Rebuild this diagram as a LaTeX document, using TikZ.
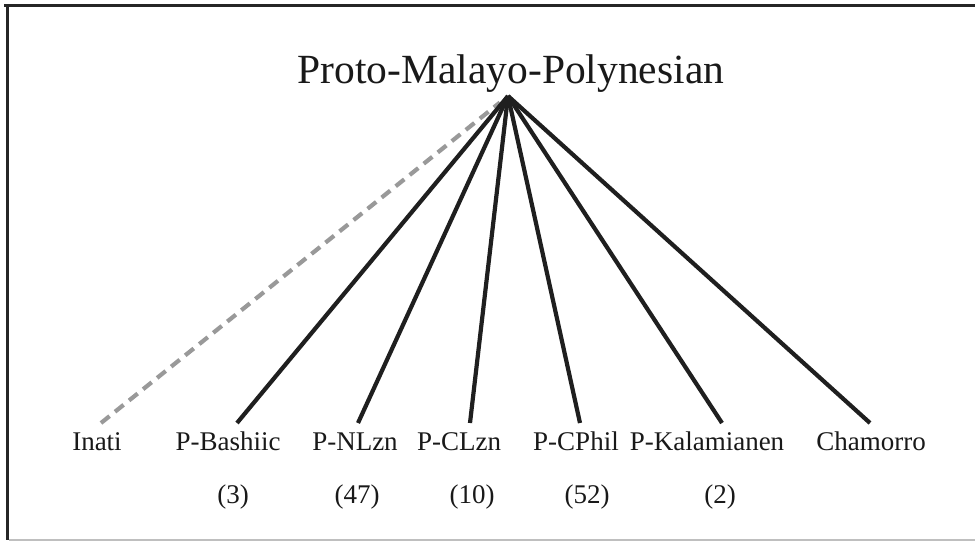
\documentclass[tikz,border=0pt]{standalone}
\usepackage{fontspec}
\setmainfont{Liberation Serif}
\usetikzlibrary{calc}
\begin{document}
\begin{tikzpicture}[x=1pt,y=-1pt,
  lbl/.style={anchor=base,inner sep=0pt,font=\fontsize{27}{30}\selectfont,text=black!90},
  ttl/.style={anchor=base,inner sep=0pt,font=\fontsize{41.5}{48}\selectfont,text=black!90},
  branch/.style={line width=4.2pt,draw=black!88},
  dashbranch/.style={line width=4.2pt,draw=black!40,dash pattern=on 11pt off 7pt}]
\useasboundingbox (0,0) rectangle (975,542);
% frame
\draw[line width=3pt,draw=black!85] (975,5.5) -- (4,5.5);
\draw[line width=3pt,draw=black!85] (7.5,4) -- (7.5,540);
\draw[line width=1.5pt,draw=black!25] (9,540) -- (975,540);
% title and apex
\node[ttl] (pmp) at (511,83) {Proto-Malayo-Polynesian};
\coordinate (apex) at (508,96);
% leaves
\node[lbl] (inati) at (97,450) {Inati};
\node[lbl] (bash) at (228,450) {P-Bashiic};
\node[lbl] (nlzn) at (355,450) {P-NLzn};
\node[lbl] (clzn) at (459,450) {P-CLzn};
\node[lbl] (cphil) at (576,450) {P-CPhil};
\node[lbl] (kal) at (707,450) {P-Kalamianen};
\node[lbl] (cham) at (871,450) {Chamorro};
% counts
\node[lbl] (nbash) at (233,503) {(3)};
\node[lbl] (nnlzn) at (357,503) {(47)};
\node[lbl] (nclzn) at (472,503) {(10)};
\node[lbl] (ncphil) at (587,503) {(52)};
\node[lbl] (nkal) at (720,503) {(2)};
% line ends
\coordinate (einati) at (101,423);
\coordinate (ebash) at (237,423);
\coordinate (enlzn) at (358,423);
\coordinate (eclzn) at (470,423);
\coordinate (ecphil) at (580,423);
\coordinate (ekal) at (722,423);
\coordinate (echam) at (870,423);
% connectors
\draw[dashbranch] (einati) -- ($(apex)!0.02!(einati)$);
\draw[branch] (apex) -- (ebash);
\draw[branch] (apex) -- (enlzn);
\draw[branch] (apex) -- (eclzn);
\draw[branch] (apex) -- (ecphil);
\draw[branch] (apex) -- (ekal);
\draw[branch] (apex) -- (echam);
\end{tikzpicture}
\end{document}
